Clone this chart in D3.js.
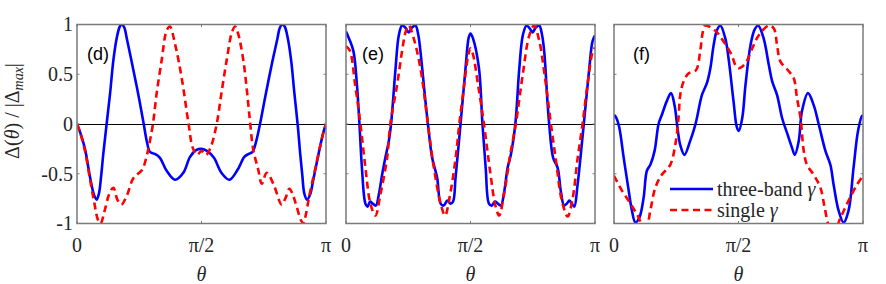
<!DOCTYPE html>
<html>
<head>
<meta charset="utf-8">
<script src="https://cdn.jsdelivr.net/npm/d3@7"></script>
<style>
  body { margin: 0; background: #fff; }
  svg { display: block; }
  svg text { font-family: "Liberation Serif", "Times New Roman", "Noto Serif", serif; }
</style>
</head>
<body>
<svg width="886" height="284"></svg>
<script>
// theta given as fraction of pi, value = Delta(theta)/|Delta_max|
const panelNames = ['(d)', '(e)', '(f)'];
const xTickValues = [0, 0.5, 1];
const xTickLabels = ['0', 'π/2', 'π'];
const yTickValues = [-1, -0.5, 0, 0.5, 1];
const yTickLabels = ['-1', '-0.5', '0', '0.5', '1'];
const seriesNames = ['three-band γ', 'single γ'];

const dThreeBand = [[0,0],[0.012,-0.08],[0.032,-0.25],[0.052,-0.53],[0.068,-0.71],[0.079,-0.76],[0.088,-0.7],[0.097,-0.52],
  [0.106,-0.29],[0.119,0],[0.133,0.31],[0.146,0.64],[0.16,0.87],[0.172,0.98],[0.18,1],[0.19,0.97],[0.2,0.86],[0.22,0.62],
  [0.246,0.3],[0.268,0],[0.28,-0.17],[0.293,-0.28],[0.312,-0.3],[0.333,-0.34],[0.36,-0.47],[0.394,-0.56],[0.427,-0.49],
  [0.454,-0.33],[0.48,-0.26],[0.5,-0.25],[0.522,-0.27],[0.55,-0.34],[0.58,-0.49],[0.612,-0.56],[0.645,-0.46],[0.672,-0.33],
  [0.69,-0.3],[0.705,-0.28],[0.72,-0.17],[0.735,0],[0.758,0.3],[0.784,0.62],[0.805,0.86],[0.815,0.97],[0.825,1],[0.834,0.98],
  [0.846,0.87],[0.86,0.64],[0.873,0.31],[0.886,0],[0.896,-0.29],[0.905,-0.52],[0.913,-0.7],[0.924,-0.76],[0.936,-0.71],
  [0.949,-0.56],[0.976,-0.23],[0.99,-0.08],[1,0]];
const dSingle = [[0,0],[0.012,-0.08],[0.032,-0.27],[0.052,-0.55],[0.07,-0.8],[0.085,-0.97],[0.095,-1.0],[0.11,-0.88],
  [0.13,-0.7],[0.146,-0.64],[0.162,-0.76],[0.178,-0.81],[0.2,-0.72],[0.225,-0.55],[0.245,-0.5],[0.262,-0.46],[0.28,-0.32],
  [0.292,-0.18],[0.305,0],[0.32,0.31],[0.34,0.64],[0.36,0.94],[0.373,0.98],[0.394,0.8],[0.42,0.47],[0.447,0.02],[0.465,-0.24],
  [0.482,-0.31],[0.5,-0.27],[0.518,-0.31],[0.536,-0.24],[0.561,0],[0.58,0.31],[0.601,0.64],[0.622,0.92],[0.635,0.98],
  [0.648,0.9],[0.668,0.64],[0.683,0.32],[0.695,0.02],[0.708,-0.26],[0.728,-0.46],[0.742,-0.6],[0.762,-0.49],[0.79,-0.61],
  [0.822,-0.81],[0.838,-0.74],[0.853,-0.65],[0.868,-0.72],[0.882,-0.83],[0.9,-0.97],[0.909,-1.0],[0.92,-0.9],[0.933,-0.72],
  [0.955,-0.47],[0.976,-0.23],[0.99,-0.08],[1,0]];

const eThreeBand = [[0,0.93],[0.012,0.86],[0.03,0.73],[0.044,0.39],[0.054,0],[0.064,-0.44],[0.078,-0.8],[0.087,-0.83],
  [0.097,-0.78],[0.107,-0.8],[0.12,-0.82],[0.131,-0.72],[0.145,-0.51],[0.158,-0.34],[0.172,-0.17],[0.181,0],[0.199,0.56],
  [0.212,0.89],[0.225,0.99],[0.238,0.97],[0.252,0.92],[0.265,0.97],[0.279,0.99],[0.29,0.9],[0.299,0.73],[0.319,0.23],
  [0.329,0],[0.346,-0.34],[0.366,-0.54],[0.38,-0.8],[0.392,-0.82],[0.407,-0.77],[0.42,-0.8],[0.43,-0.78],[0.44,-0.54],
  [0.46,0],[0.48,0.56],[0.493,0.87],[0.5,0.91],[0.51,0.86],[0.534,0.56],[0.548,0],[0.561,-0.44],[0.574,-0.8],[0.585,-0.82],
  [0.598,-0.78],[0.61,-0.8],[0.622,-0.82],[0.636,-0.67],[0.649,-0.44],[0.662,-0.31],[0.68,0],[0.696,0.56],[0.71,0.89],
  [0.725,0.99],[0.738,0.96],[0.749,0.92],[0.762,0.97],[0.776,0.99],[0.787,0.9],[0.796,0.73],[0.809,0.23],[0.816,0],
  [0.832,-0.34],[0.85,-0.44],[0.863,-0.68],[0.876,-0.82],[0.887,-0.8],[0.897,-0.77],[0.907,-0.8],[0.917,-0.83],[0.93,-0.61],
  [0.955,0],[0.977,0.56],[0.99,0.83],[1,0.89]];
const eSingle = [[0,0.78],[0.015,0.74],[0.037,0.39],[0.058,0],[0.078,-0.44],[0.098,-0.8],[0.118,-0.92],[0.138,-0.71],
  [0.165,-0.34],[0.178,0],[0.205,0.39],[0.225,0.73],[0.24,0.93],[0.252,0.99],[0.272,0.86],[0.299,0.56],[0.329,0],
  [0.353,-0.44],[0.38,-0.8],[0.398,-0.92],[0.415,-0.75],[0.44,-0.35],[0.455,0],[0.475,0.4],[0.49,0.68],[0.5,0.76],
  [0.51,0.7],[0.53,0.4],[0.554,0],[0.58,-0.5],[0.6,-0.82],[0.615,-0.92],[0.635,-0.7],[0.66,-0.3],[0.682,0],[0.71,0.5],
  [0.735,0.88],[0.755,0.99],[0.775,0.85],[0.8,0.45],[0.823,0],[0.845,-0.4],[0.865,-0.75],[0.89,-0.93],[0.91,-0.75],
  [0.93,-0.35],[0.95,0],[0.97,0.4],[0.99,0.72],[1,0.77]];

const fThreeBand = [[0,0.09],[0.005,0.08],[0.019,-0.01],[0.039,-0.34],[0.059,-0.67],[0.072,-0.87],[0.086,-0.99],
  [0.102,-0.94],[0.119,-0.74],[0.132,-0.47],[0.146,-0.41],[0.163,-0.27],[0.179,0],[0.192,0.09],[0.212,0.23],[0.229,0.31],
  [0.243,0.19],[0.255,-0.04],[0.266,-0.21],[0.283,-0.31],[0.306,-0.17],[0.323,-0.04],[0.333,0.06],[0.353,0.29],[0.373,0.41],
  [0.387,0.56],[0.4,0.79],[0.413,0.94],[0.427,0.99],[0.447,0.86],[0.46,0.66],[0.48,0.23],[0.493,-0.03],[0.501,-0.07],
  [0.515,0.06],[0.528,0.39],[0.548,0.79],[0.565,0.95],[0.579,0.99],[0.601,0.86],[0.622,0.59],[0.635,0.43],[0.655,0.29],
  [0.675,0.06],[0.695,-0.09],[0.715,-0.24],[0.726,-0.31],[0.742,-0.17],[0.755,0.13],[0.779,0.31],[0.802,0.19],[0.822,0],
  [0.849,-0.27],[0.869,-0.41],[0.882,-0.61],[0.902,-0.87],[0.922,-0.99],[0.942,-0.87],[0.962,-0.44],[0.98,-0.07],
  [0.996,0.08],[1,0.08]];
const fSingle = [[0,-0.52],[0.032,-0.67],[0.066,-0.8],[0.099,-0.94],[0.125,-1.1],[0.146,-0.87],[0.166,-0.64],
  [0.192,-0.51],[0.226,-0.41],[0.246,-0.21],[0.259,0.06],[0.266,0.29],[0.28,0.43],[0.3,0.51],[0.329,0.54],[0.346,0.73],
  [0.357,0.93],[0.366,0.99],[0.406,0.94],[0.44,0.83],[0.473,0.69],[0.488,0.59],[0.501,0.56],[0.528,0.61],[0.555,0.76],
  [0.581,0.89],[0.622,0.99],[0.642,0.96],[0.655,0.79],[0.668,0.63],[0.702,0.53],[0.722,0.46],[0.735,0.26],[0.749,0.06],
  [0.762,-0.27],[0.775,-0.41],[0.802,-0.51],[0.829,-0.64],[0.846,-0.84],[0.862,-1.02],[0.88,-1.1],[0.91,-0.94],
  [0.942,-0.77],[0.976,-0.61],[1,-0.52]];

const panelSeries = [[dThreeBand, dSingle], [eThreeBand, eSingle], [fThreeBand, fSingle]];

const serifStyle = 'font-family: "Liberation Serif", "Times New Roman", "Noto Serif", serif; font-size: 20px';
const sansStyle = 'font-family: "Liberation Sans", Arial, sans-serif; font-size: 18px';

const svg = d3.select('svg');
const lefts = [77, 346, 614];
const pw = 249, plotTop = 24.5, plotBottom = 223.5;
const tagX = [87, 362, 633];
const frameColor = '#7a7a7a';

const y = d3.scaleLinear().domain([-1, 1]).range([plotBottom, plotTop]);

function serifText(sel) {
  return sel.attr('style', serifStyle).attr('fill', '#262626');
}

panelSeries.forEach((series, i) => {
  const x = d3.scaleLinear().domain([0, 1]).range([lefts[i], lefts[i] + pw]);
  const g = svg.append('g');

  g.append('clipPath').attr('id', 'clip' + i)
    .append('rect').attr('x', lefts[i]).attr('y', plotTop).attr('width', pw).attr('height', plotBottom - plotTop);

  // zero line
  g.append('line')
    .attr('x1', x(0)).attr('x2', x(1)).attr('y1', y(0) + 0.5).attr('y2', y(0) + 0.5)
    .attr('stroke', '#000').attr('stroke-width', 1);

  const line = d3.line()
    .x(d => x(d[0]))
    .y(d => y(d[1]))
    .curve(d3.curveCatmullRom.alpha(0.5));

  g.append('path').datum(series[0])
    .attr('clip-path', `url(#clip${i})`)
    .attr('d', line).attr('fill', 'none')
    .attr('stroke', '#0000ff').attr('stroke-width', 2.6);
  g.append('path').datum(series[1])
    .attr('clip-path', `url(#clip${i})`)
    .attr('d', line).attr('fill', 'none')
    .attr('stroke', '#ff0000').attr('stroke-width', 2.6)
    .attr('stroke-dasharray', '7,4.5');

  // frame
  g.append('rect')
    .attr('x', lefts[i]).attr('y', plotTop).attr('width', pw).attr('height', plotBottom - plotTop)
    .attr('fill', 'none').attr('stroke', frameColor).attr('stroke-width', 1.5);

  // ticks inside
  yTickValues.forEach(v => {
    g.append('line').attr('x1', x(0)).attr('x2', x(0) + 2.5).attr('y1', y(v)).attr('y2', y(v))
      .attr('stroke', frameColor).attr('stroke-width', 1);
    g.append('line').attr('x1', x(1)).attr('x2', x(1) - 2.5).attr('y1', y(v)).attr('y2', y(v))
      .attr('stroke', frameColor).attr('stroke-width', 1);
  });
  xTickValues.forEach(v => {
    g.append('line').attr('x1', x(v)).attr('x2', x(v)).attr('y1', plotBottom).attr('y2', plotBottom - 2.5)
      .attr('stroke', frameColor).attr('stroke-width', 1);
    g.append('line').attr('x1', x(v)).attr('x2', x(v)).attr('y1', plotTop).attr('y2', plotTop + 2.5)
      .attr('stroke', frameColor).attr('stroke-width', 1);
  });

  xTickValues.forEach((v, k) => {
    serifText(g.append('text'))
      .attr('x', x(v)).attr('y', 252).attr('text-anchor', 'middle')
      .text(xTickLabels[k]);
  });
  serifText(g.append('text'))
    .attr('x', x(0.5)).attr('y', 281).attr('text-anchor', 'middle')
    .attr('font-style', 'italic').text('θ');

  g.append('text').attr('style', sansStyle).attr('fill', '#000')
    .attr('x', tagX[i]).attr('y', 59.5).text(panelNames[i]);

  if (i === 0) {
    yTickValues.forEach((v, k) => {
      serifText(g.append('text'))
        .attr('x', 73).attr('y', y(v)).attr('dy', '0.34em').attr('text-anchor', 'end')
        .text(yTickLabels[k]);
    });
  }
});

// y axis label
const yl = serifText(svg.append('text'))
  .attr('transform', 'translate(18.5,111) rotate(-90)')
  .attr('text-anchor', 'middle');
yl.append('tspan').text('Δ(');
yl.append('tspan').attr('font-style', 'italic').text('θ');
yl.append('tspan').text(') / |Δ');
yl.append('tspan').attr('font-style', 'italic').attr('font-size', 14).attr('dy', 4).text('max');
yl.append('tspan').attr('dy', -4).text('|');

// legend in panel (f)
const legendY = [189, 210];
const legend = svg.append('g');
seriesNames.forEach((name, k) => {
  legend.append('line')
    .attr('x1', 670).attr('x2', 713).attr('y1', legendY[k]).attr('y2', legendY[k])
    .attr('stroke', k === 0 ? '#0000ff' : '#ff0000').attr('stroke-width', 2.6)
    .attr('stroke-dasharray', k === 0 ? null : '7,4.5');
  const t = serifText(legend.append('text'))
    .attr('x', 717).attr('y', legendY[k] + 6.5);
  const parts = name.split(' ');
  t.append('tspan').text(parts.slice(0, -1).join(' ') + ' ');
  t.append('tspan').attr('font-style', 'italic').text(parts[parts.length - 1]);
});
</script>
</body>
</html>
